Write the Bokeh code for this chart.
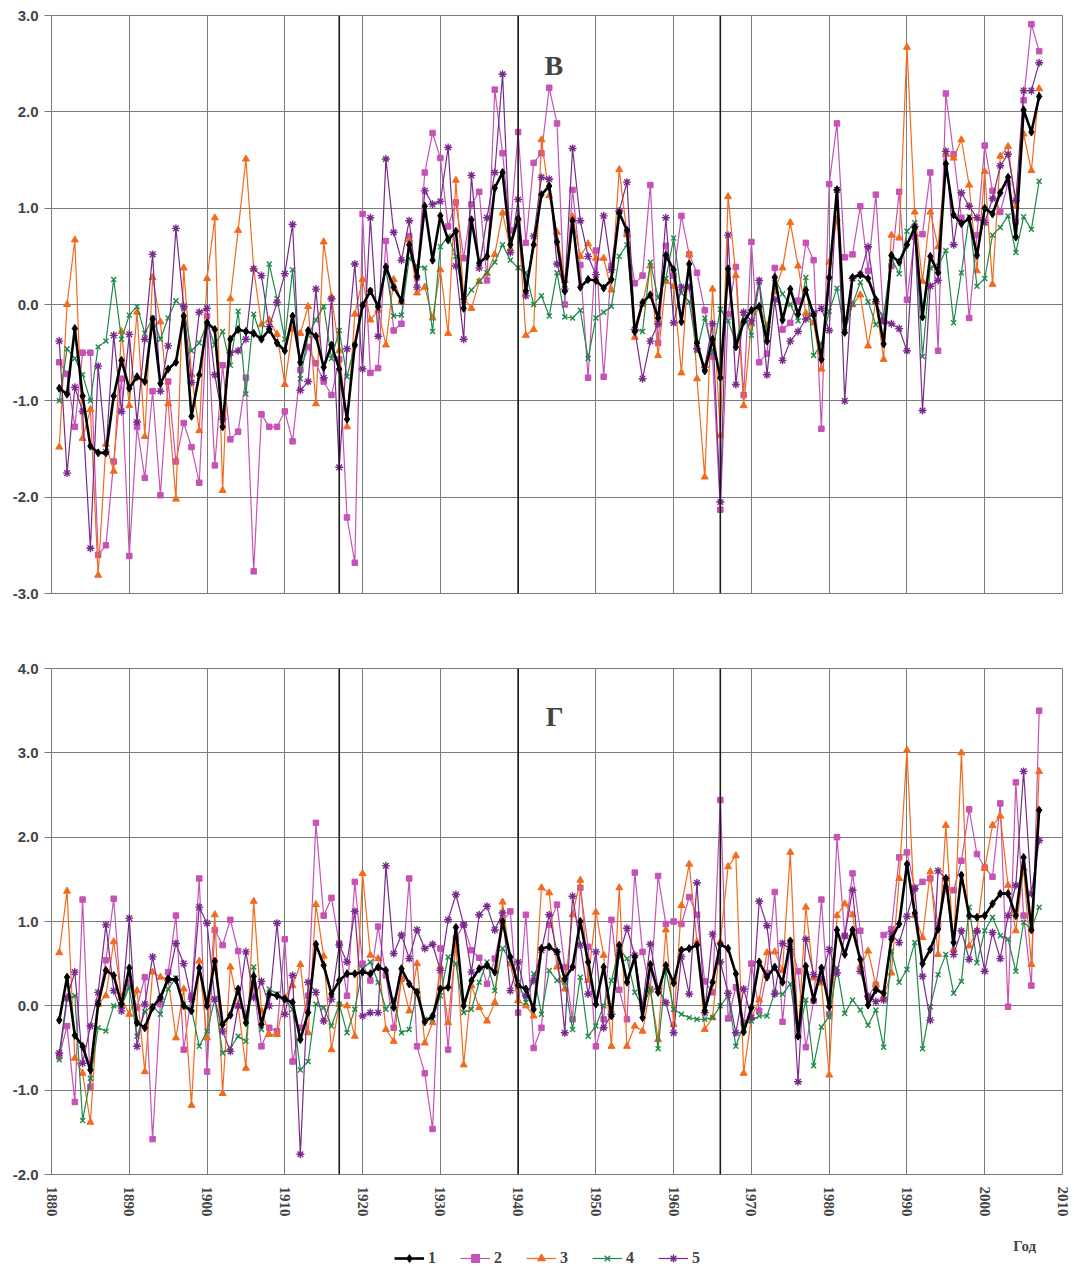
from bokeh.plotting import figure
from bokeh.layouts import column
from bokeh.models import (Range1d, FixedTicker, PrintfTickFormatter, Span, Label,
                          Legend, LegendItem)
from bokeh.embed import file_html
from bokeh.resources import INLINE

YEARS = list(range(1881, 2008))
X_TICKS = [1880, 1890, 1900, 1910, 1920, 1930, 1940, 1950, 1960, 1970, 1980, 1990, 2000, 2010]
TOP_Y_TICKS = [-3, -2, -1, 0, 1, 2, 3]
BOT_Y_TICKS = [-2, -1, 0, 1, 2, 3, 4]
BREAK_YEARS = [1917, 1940, 1966]
SERIES_NAMES = ["1", "2", "3", "4", "5"]

# ---- panel В ----
V1 = [-0.87, -0.93, -0.25, -0.95, -1.47, -1.54, -1.54, -0.95, -0.58, -0.87,
      -0.75, -0.80, -0.15, -0.82, -0.67, -0.60, -0.12, -1.16, -0.73, -0.19,
      -0.26, -1.27, -0.36, -0.26, -0.28, -0.30, -0.36, -0.26, -0.40, -0.48,
      -0.12, -0.60, -0.27, -0.33, -0.65, -0.42, -0.67, -1.19, -0.42, -0.01,
      0.14, -0.02, 0.39, 0.18, 0.04, 0.62, 0.29, 1.02, 0.46, 0.92,
      0.67, 0.76, -0.04, 0.88, 0.43, 0.50, 1.21, 1.37, 0.62, 0.89,
      0.14, 0.62, 1.14, 1.23, 0.65, 0.14, 0.87, 0.18, 0.26, 0.25,
      0.17, 0.26, 0.95, 0.77, -0.28, 0.02, 0.10, -0.14, 0.51, 0.36,
      -0.18, 0.42, -0.40, -0.69, -0.36, -0.76, 0.37, -0.44, -0.18, -0.06,
      -0.02, -0.38, 0.28, -0.16, 0.16, -0.10, 0.15, -0.11, -0.57, 0.28,
      1.19, -0.29, 0.28, 0.31, 0.27, 0.05, -0.41, 0.51, 0.44, 0.62,
      0.80, -0.13, 0.50, 0.33, 1.46, 0.93, 0.84, 0.89, 0.51, 1.00,
      0.94, 1.16, 1.32, 0.70, 2.02, 1.79, 2.16]
V2 = [-0.60, -0.72, -1.27, -0.50, -0.50, -2.60, -2.50, -1.63, -0.77, -2.61,
      -1.27, -1.80, -0.90, -1.98, -0.80, -1.63, -1.23, -1.48, -1.85, -0.12,
      -1.67, -0.63, -1.40, -1.32, -0.76, -2.77, -1.14, -1.27, -1.27, -1.11,
      -1.42, -0.68, -0.44, -0.61, -0.80, -0.94, -0.57, -2.21, -2.68, 0.94,
      -0.71, -0.66, 0.66, -0.27, -0.20, 0.71, 0.28, 1.37, 1.78, 1.52,
      0.81, 1.06, 0.48, 1.04, 1.17, 0.25, 2.23, 1.57, 0.77, 1.79,
      0.64, 1.47, 1.57, 2.25, 1.88, 0.00, 1.19, 0.41, -0.76, 0.56,
      -0.75, 0.40, 0.97, 0.73, 0.22, 0.30, 1.24, -0.40, 0.61, 0.30,
      0.92, 0.52, 0.33, -0.06, -0.54, -2.13, -0.10, 0.39, -0.94, 0.65,
      -0.60, -0.51, 0.38, -0.26, -0.19, 0.04, 0.64, 0.46, -1.29, 1.25,
      1.88, 0.49, 0.52, 1.02, 0.35, 1.14, -0.17, 0.40, 1.17, 0.05,
      0.70, 0.73, 1.37, -0.48, 2.19, 1.56, 0.90, -0.14, 0.72, 1.65,
      1.18, 0.96, 1.26, 0.86, 2.12, 2.91, 2.63]
V3 = [-1.48, 0.00, 0.67, -1.39, -1.09, -2.81, -1.45, -1.73, -0.28, -1.05,
      -0.08, -1.37, 0.28, -0.18, -1.03, -2.02, 0.38, -0.73, -1.31, 0.27,
      0.90, -1.93, 0.06, 0.77, 1.51, 0.37, -0.21, -0.16, -0.31, -0.83,
      -0.26, -0.30, -0.02, -1.03, 0.65, 0.08, -0.48, -1.27, -0.10, 0.26,
      -0.16, -0.06, -0.42, 0.26, 0.03, 0.67, 0.12, 0.18, -0.14, 0.36,
      -0.30, 1.29, 0.07, -0.04, 0.24, 0.32, 0.52, 0.95, 0.58, 0.89,
      -0.32, -0.26, 1.71, 1.13, 0.75, 0.25, 0.91, 0.50, 0.63, 0.48,
      0.48, 0.15, 1.40, 0.73, -0.34, 0.00, 0.40, -0.53, 0.24, 0.19,
      -0.71, 0.52, -0.77, -1.79, 0.16, -1.36, 1.12, 0.30, -1.05, -0.20,
      -0.02, -0.22, 0.13, 0.38, 0.85, 0.40, -0.09, -0.19, -0.67, 0.44,
      0.89, -0.16, 0.00, 0.10, -0.43, 0.03, -0.57, 0.72, 0.69, 2.67,
      0.96, 0.24, 0.96, 0.60, 1.56, 1.52, 1.71, 1.24, 0.35, 1.38,
      0.21, 1.54, 1.64, 1.02, 1.77, 1.39, 2.24]
V4 = [-1.00, -0.46, -0.56, -0.73, -1.00, -0.44, -0.38, 0.26, -0.36, -0.11,
      -0.02, -0.30, -0.14, -0.36, -0.14, 0.04, -0.04, -0.48, -0.40, -0.20,
      -0.42, -0.28, -0.63, -0.07, -0.93, -0.10, -0.35, 0.42, 0.06, -0.36,
      0.36, -0.77, -0.32, -0.16, -0.02, -0.56, -0.27, -0.75, -0.42, 0.00,
      0.14, -0.01, 0.36, -0.12, -0.11, 0.48, 0.40, 0.38, -0.28, 0.60,
      0.71, 0.50, 0.04, 0.15, 0.24, 0.33, 0.44, 0.62, 0.46, 0.38,
      0.33, 0.00, 0.09, -0.12, 0.33, -0.13, -0.14, -0.06, -0.56, -0.14,
      -0.08, -0.02, 0.50, 0.62, -0.26, -0.28, 0.44, 0.07, 0.27, 0.69,
      0.12, 0.03, -0.48, -0.14, -0.50, -0.05, -0.17, -0.39, -0.09, -0.32,
      0.23, -0.29, 0.27, 0.11, 0.00, -0.17, 0.28, -0.53, -0.41, -0.07,
      0.17, -0.28, 0.00, 0.23, 0.03, -0.21, -0.11, 0.48, 0.32, 0.76,
      0.85, -0.54, 0.38, 0.40, 0.56, -0.19, 0.33, 0.91, 0.19, 0.27,
      0.72, 0.80, 0.92, 0.54, 0.91, 0.78, 1.28]
V5 = [-0.38, -1.75, -0.86, -1.11, -2.53, -0.64, -1.53, -0.32, -1.11, -0.31,
      -1.22, -0.36, 0.52, -0.90, -0.43, 0.79, -0.02, -0.81, -0.08, -0.04,
      -0.73, -1.19, -0.50, -0.48, -0.36, 0.37, 0.30, -0.23, 0.02, 0.32,
      0.83, -0.89, -0.80, 0.16, -0.76, 0.06, -1.69, -0.46, 0.42, -0.67,
      0.90, -0.33, 1.51, 0.75, 0.46, 0.87, 0.18, 1.18, 1.04, 1.07,
      1.63, 0.40, -0.36, 1.34, 0.38, 0.90, 1.37, 2.39, 0.54, 1.09,
      0.09, 0.71, 1.32, 1.30, 0.42, 0.16, 1.62, 0.87, 0.50, 0.31,
      0.92, 0.36, 0.97, 1.27, -0.26, -0.77, -0.38, -0.20, 0.90, -0.19,
      0.18, 0.18, -0.46, -0.65, -0.20, -2.05, 0.72, -0.83, -0.08, -0.17,
      0.25, -0.73, 0.05, -0.58, -0.38, -0.28, -0.15, -0.09, -0.04, -0.27,
      1.19, -1.00, 0.27, 0.31, 0.60, 0.03, -0.17, -0.20, -0.25, -0.48,
      0.81, -1.10, 0.19, 0.25, 1.59, 0.62, 1.16, 1.02, 0.90, 0.85,
      1.10, 1.44, 1.56, 1.08, 2.22, 2.22, 2.51]

# ---- panel Г ----
G1 = [-0.17, 0.34, -0.35, -0.48, -0.76, 0.02, 0.42, 0.36, 0.02, 0.45,
      -0.20, -0.26, -0.02, 0.10, 0.32, 0.31, 0.00, -0.06, 0.45, 0.00,
      0.53, -0.22, -0.11, 0.20, -0.20, 0.35, -0.22, 0.14, 0.12, 0.08,
      0.04, -0.40, -0.08, 0.73, 0.48, 0.14, 0.30, 0.38, 0.38, 0.40,
      0.38, 0.46, 0.42, -0.02, 0.44, 0.26, 0.16, -0.19, -0.12, 0.20,
      0.22, 0.93, 0.00, 0.30, 0.44, 0.48, 0.40, 1.00, 0.58, 0.24,
      0.20, -0.04, 0.68, 0.70, 0.64, 0.32, 0.46, 1.00, 0.52, 0.02,
      0.46, -0.12, 0.72, 0.28, 0.58, -0.14, 0.49, 0.16, 0.48, 0.27,
      0.66, 0.68, 0.72, -0.06, 0.28, 0.73, 0.68, 0.38, -0.31, -0.02,
      0.52, 0.34, 0.46, 0.28, 0.77, -0.36, 0.47, 0.07, 0.45, -0.01,
      0.90, 0.61, 0.90, 0.55, 0.01, 0.19, 0.15, 0.79, 0.97, 1.68,
      1.10, 0.50, 0.67, 0.91, 1.51, 0.75, 1.55, 1.07, 1.05, 1.07,
      1.21, 1.33, 1.33, 1.07, 1.76, 0.90, 2.32]
G2 = [-0.60, -0.24, -1.14, 1.26, -0.96, 0.04, 0.54, 1.27, 0.00, 0.28,
      -0.02, 0.34, -1.58, 0.02, 0.40, 1.07, -0.52, 0.12, 1.51, -0.78,
      0.90, 0.72, 1.02, 0.65, -0.12, 0.24, -0.48, -0.26, -0.30, 0.79,
      -0.66, -0.26, 0.12, 2.17, 1.07, 1.28, 0.74, 0.12, 1.47, 0.50,
      0.30, 0.94, 0.36, -0.26, 0.32, 1.51, -0.48, -0.80, -1.46, 0.68,
      -0.52, 0.80, 0.96, 0.66, 0.57, 0.26, 0.56, 1.00, 1.12, -0.08,
      1.08, -0.50, -0.26, 0.96, 1.20, 0.46, -0.16, 1.40, 0.70, -0.48,
      -0.16, 1.02, 0.19, -0.16, 1.58, 0.64, 0.19, 1.54, 0.97, 1.00,
      0.97, 1.29, 1.08, 0.29, 0.16, 2.44, -0.15, 0.22, -0.20, 0.50,
      -0.06, 0.39, 1.35, -0.19, 0.75, 0.41, -0.49, 0.06, 1.26, -0.10,
      2.00, 0.83, 1.57, 0.89, 0.11, 0.25, 0.84, 0.91, 1.76, 1.82,
      1.40, 1.47, 1.51, 0.96, 1.39, 1.37, 1.72, 2.33, 1.80, 1.64,
      1.53, 2.40, -0.01, 2.65, 1.07, 0.24, 3.50]
G3 = [0.63, 1.36, -0.62, -0.80, -1.38, 0.02, 0.12, 0.76, 0.10, -0.10,
      0.18, -0.78, 0.40, 0.34, 0.32, -0.38, 0.20, -1.18, 0.53, -0.38,
      1.08, -1.04, 0.46, 0.00, -0.74, 1.24, -0.06, -0.34, -0.34, 0.10,
      0.24, 0.49, -0.32, 1.20, 0.59, -0.52, 0.02, 0.00, -0.36, 1.57,
      0.60, 0.56, -0.28, -0.42, 0.32, -0.06, 0.50, -0.44, -0.20, 0.46,
      -0.20, 0.74, -0.70, 0.24, -0.02, -0.18, 0.04, 1.23, 0.50, 0.06,
      0.00, -0.12, 1.40, 1.34, 0.46, 0.20, 1.08, 1.49, 0.30, 1.11,
      0.60, -0.48, 1.40, -0.48, -0.24, -0.30, 0.20, -0.40, 0.90, -0.22,
      1.19, 1.68, 0.76, -0.28, -0.14, 0.76, 1.65, 1.78, -0.80, -0.14,
      0.07, 0.63, 0.64, 0.42, 1.82, -0.36, 1.17, 0.33, 0.27, -0.82,
      1.07, 1.21, 1.08, 0.47, 0.65, 0.25, 0.11, 0.39, 1.51, 3.03,
      1.07, 0.81, 1.59, 0.61, 2.14, 0.67, 3.00, 0.71, 0.89, 1.63,
      2.14, 2.25, 1.43, 0.89, 1.63, 0.49, 2.78]
G4 = [-0.64, 0.08, 0.12, -1.36, -0.86, -0.26, -0.30, 0.00, 0.00, 0.22,
      -0.36, -0.07, 0.00, -0.10, 0.20, 0.33, 0.02, -0.04, -0.48, -0.30,
      0.08, -0.56, -0.50, -0.36, -0.42, 0.46, -0.28, 0.20, 0.14, 0.08,
      -0.04, -0.76, -0.66, 0.02, -0.02, -0.24, 0.02, -0.32, -0.04, 0.44,
      0.52, 0.28, -0.04, 0.08, -0.32, -0.28, 0.18, -0.16, -0.16, 0.12,
      0.58, 0.50, -0.08, -0.04, 0.28, 0.52, 0.18, 0.68, 0.54, 0.28,
      0.04, 0.38, -0.10, 0.42, 0.30, 0.28, -0.28, 0.34, -0.36, -0.24,
      0.00, 0.30, 0.68, 0.56, 0.16, -0.02, 0.20, -0.51, 0.42, -0.04,
      -0.10, -0.14, -0.16, -0.16, -0.14, 0.00, 0.12, -0.48, -0.22, -0.18,
      -0.12, -0.12, 0.16, 0.14, 0.26, -0.36, 0.07, -0.71, -0.25, -0.13,
      0.45, -0.09, 0.07, -0.05, -0.23, -0.05, -0.49, 0.65, 0.28, 0.43,
      0.75, -0.51, -0.01, 0.37, 0.61, 0.15, 0.29, 1.17, 0.51, 0.89,
      1.05, 0.83, 0.79, 0.41, 0.99, 0.91, 1.17]
G5 = [-0.56, 0.10, 0.40, -0.68, -0.24, 0.16, 0.96, 0.18, -0.06, 1.04,
      -0.48, 0.02, 0.58, 0.08, 0.30, 0.74, 0.50, 0.08, 1.17, 0.98,
      0.08, -0.30, -0.54, 0.00, 0.64, 0.10, 0.29, 0.00, 0.98, -0.10,
      0.36, -1.76, 0.28, 0.16, -0.18, 0.08, 0.72, 0.52, 1.12, -0.12,
      -0.08, -0.08, 1.66, 0.62, 0.84, 0.56, 0.90, 0.68, 0.73, 0.42,
      1.02, 1.32, 0.96, 0.40, 1.08, 1.18, 0.90, 1.10, 0.18, 0.52,
      0.12, 0.30, 0.66, 1.08, 0.64, -0.32, 1.30, 0.72, 0.14, 0.64,
      -0.26, -0.10, 0.60, 0.92, 0.60, 0.00, 0.73, 0.20, 0.04, -0.32,
      0.58, 0.14, 1.46, -0.08, 0.85, 0.52, 0.15, -0.32, 0.20, -0.14,
      1.24, 0.95, 0.14, 0.74, 0.67, -0.90, 0.79, 0.37, 0.31, 0.67,
      0.39, 0.83, 1.37, 0.41, 0.11, 0.05, 0.07, 0.85, 0.75, 1.06,
      1.39, 0.35, -0.17, 1.60, 1.51, 0.61, 0.89, 0.55, 0.89, 0.41,
      0.87, 0.56, 1.07, 1.43, 2.78, 1.33, 1.96]

STYLES = {
    "1": dict(color="#000000", marker="diamond", lw=2.6, size=8),
    "2": dict(color="#C652B6", marker="square", lw=1.2, size=5.5),
    "3": dict(color="#F26B1D", marker="triangle", lw=1.2, size=7),
    "4": dict(color="#1E8A48", marker="x", lw=1.2, size=7),
    "5": dict(color="#7A2A8C", marker="asterisk", lw=1.2, size=8),
}
GRID = "#7a7a7a"
FIG_W = 1070


def add_series(p, ys, st):
    l = p.line(YEARS, ys, line_color=st["color"], line_width=st["lw"])
    s = p.scatter(YEARS, ys, marker=st["marker"], size=st["size"],
                  fill_color=st["color"], line_color=st["color"],
                  line_width=1.4 if st["marker"] in ("x", "asterisk") else 1)
    return [l, s]


def make_panel(ymin, ymax, yticks, series, height, btop, bbottom, show_x):
    p = figure(width=FIG_W, height=height, x_range=Range1d(1880, 2010),
               y_range=Range1d(ymin, ymax), output_backend="svg",
               toolbar_location=None, min_border_left=51, min_border_right=8,
               min_border_top=btop, min_border_bottom=bbottom,
               background_fill_color="white", border_fill_color="white")
    p.outline_line_color = GRID
    p.outline_line_width = 1
    p.xgrid.ticker = FixedTicker(ticks=X_TICKS)
    p.ygrid.ticker = FixedTicker(ticks=yticks)
    for g in (p.xgrid, p.ygrid):
        g.grid_line_color = GRID
        g.grid_line_width = 1
    p.yaxis.ticker = FixedTicker(ticks=yticks)
    p.yaxis.formatter = PrintfTickFormatter(format="%.1f")
    p.yaxis.major_label_text_font = "Liberation Sans"
    p.yaxis.major_label_text_font_style = "bold"
    p.yaxis.major_label_text_font_size = "15px"
    p.yaxis.major_label_standoff = 6
    p.yaxis.major_tick_out = 7
    p.yaxis.major_tick_in = 0
    p.yaxis.minor_tick_line_color = None
    p.yaxis.axis_line_color = GRID
    p.yaxis.major_tick_line_color = GRID
    p.xaxis.ticker = FixedTicker(ticks=X_TICKS)
    p.xaxis.major_label_orientation = "vertical"
    p.xaxis.major_label_text_font = "Liberation Serif"
    p.xaxis.major_label_text_font_size = "15px"
    p.xaxis.major_label_text_font_style = "bold"
    p.xaxis.major_label_standoff = 12
    p.xaxis.major_tick_out = 0
    p.xaxis.major_tick_in = 0
    p.xaxis.minor_tick_line_color = None
    p.xaxis.axis_line_color = GRID
    p.xaxis.visible = show_x
    for yr in BREAK_YEARS:
        p.add_layout(Span(location=yr, dimension="height", line_color="#1a1a1a",
                          line_width=1.6))
    for name in ["2", "3", "4", "5", "1"]:
        add_series(p, series[name], STYLES[name])
    return p


top = make_panel(-3, 3, TOP_Y_TICKS,
                 {"1": V1, "2": V2, "3": V3, "4": V4, "5": V5},
                 640, 15, 47, False)
top.add_layout(Label(x=1944.6, y=2.48, text="В", text_font="Liberation Serif",
                     text_font_size="28px", text_font_style="bold",
                     text_align="center", text_baseline="middle"))

bot = make_panel(-2, 4, BOT_Y_TICKS,
                 {"1": G1, "2": G2, "3": G3, "4": G4, "5": G5},
                 584, 28, 50, True)
bot.add_layout(Label(x=1944.7, y=3.43, text="Г", text_font="Liberation Serif",
                     text_font_size="28px", text_font_style="bold",
                     text_align="center", text_baseline="middle"))

# legend strip below the charts: pixel-based ranges, so the proxy series
# (years > 1880) fall outside the visible area and only the legend shows
leg = figure(width=FIG_W, height=46, x_range=Range1d(0, FIG_W), y_range=Range1d(0, 46),
             output_backend="svg", toolbar_location=None, min_border=0,
             background_fill_color="white", border_fill_color="white")
leg.axis.visible = False
leg.grid.visible = False
leg.outline_line_color = None
proxy = {"1": G1, "2": G2, "3": G3, "4": G4, "5": G5}
items = []
for name in SERIES_NAMES:
    items.append(LegendItem(label=name, renderers=add_series(leg, proxy[name], STYLES[name])))
legend = Legend(items=items, orientation="horizontal", location=(343, 2),
                border_line_color=None, background_fill_alpha=0,
                label_text_font="Liberation Serif", label_text_font_size="16px",
                label_text_font_style="bold", label_width=12,
                glyph_width=30, glyph_height=20, label_standoff=4, spacing=20,
                padding=0, margin=0)
leg.add_layout(legend)
leg.add_layout(Label(x=1030, y=25, text="Год", text_font="Liberation Serif",
                     text_font_size="15px", text_font_style="bold",
                     text_align="center", text_baseline="middle"))

layout = column(top, bot, leg, spacing=0)
open("out.html", "w").write(file_html(layout, INLINE))
